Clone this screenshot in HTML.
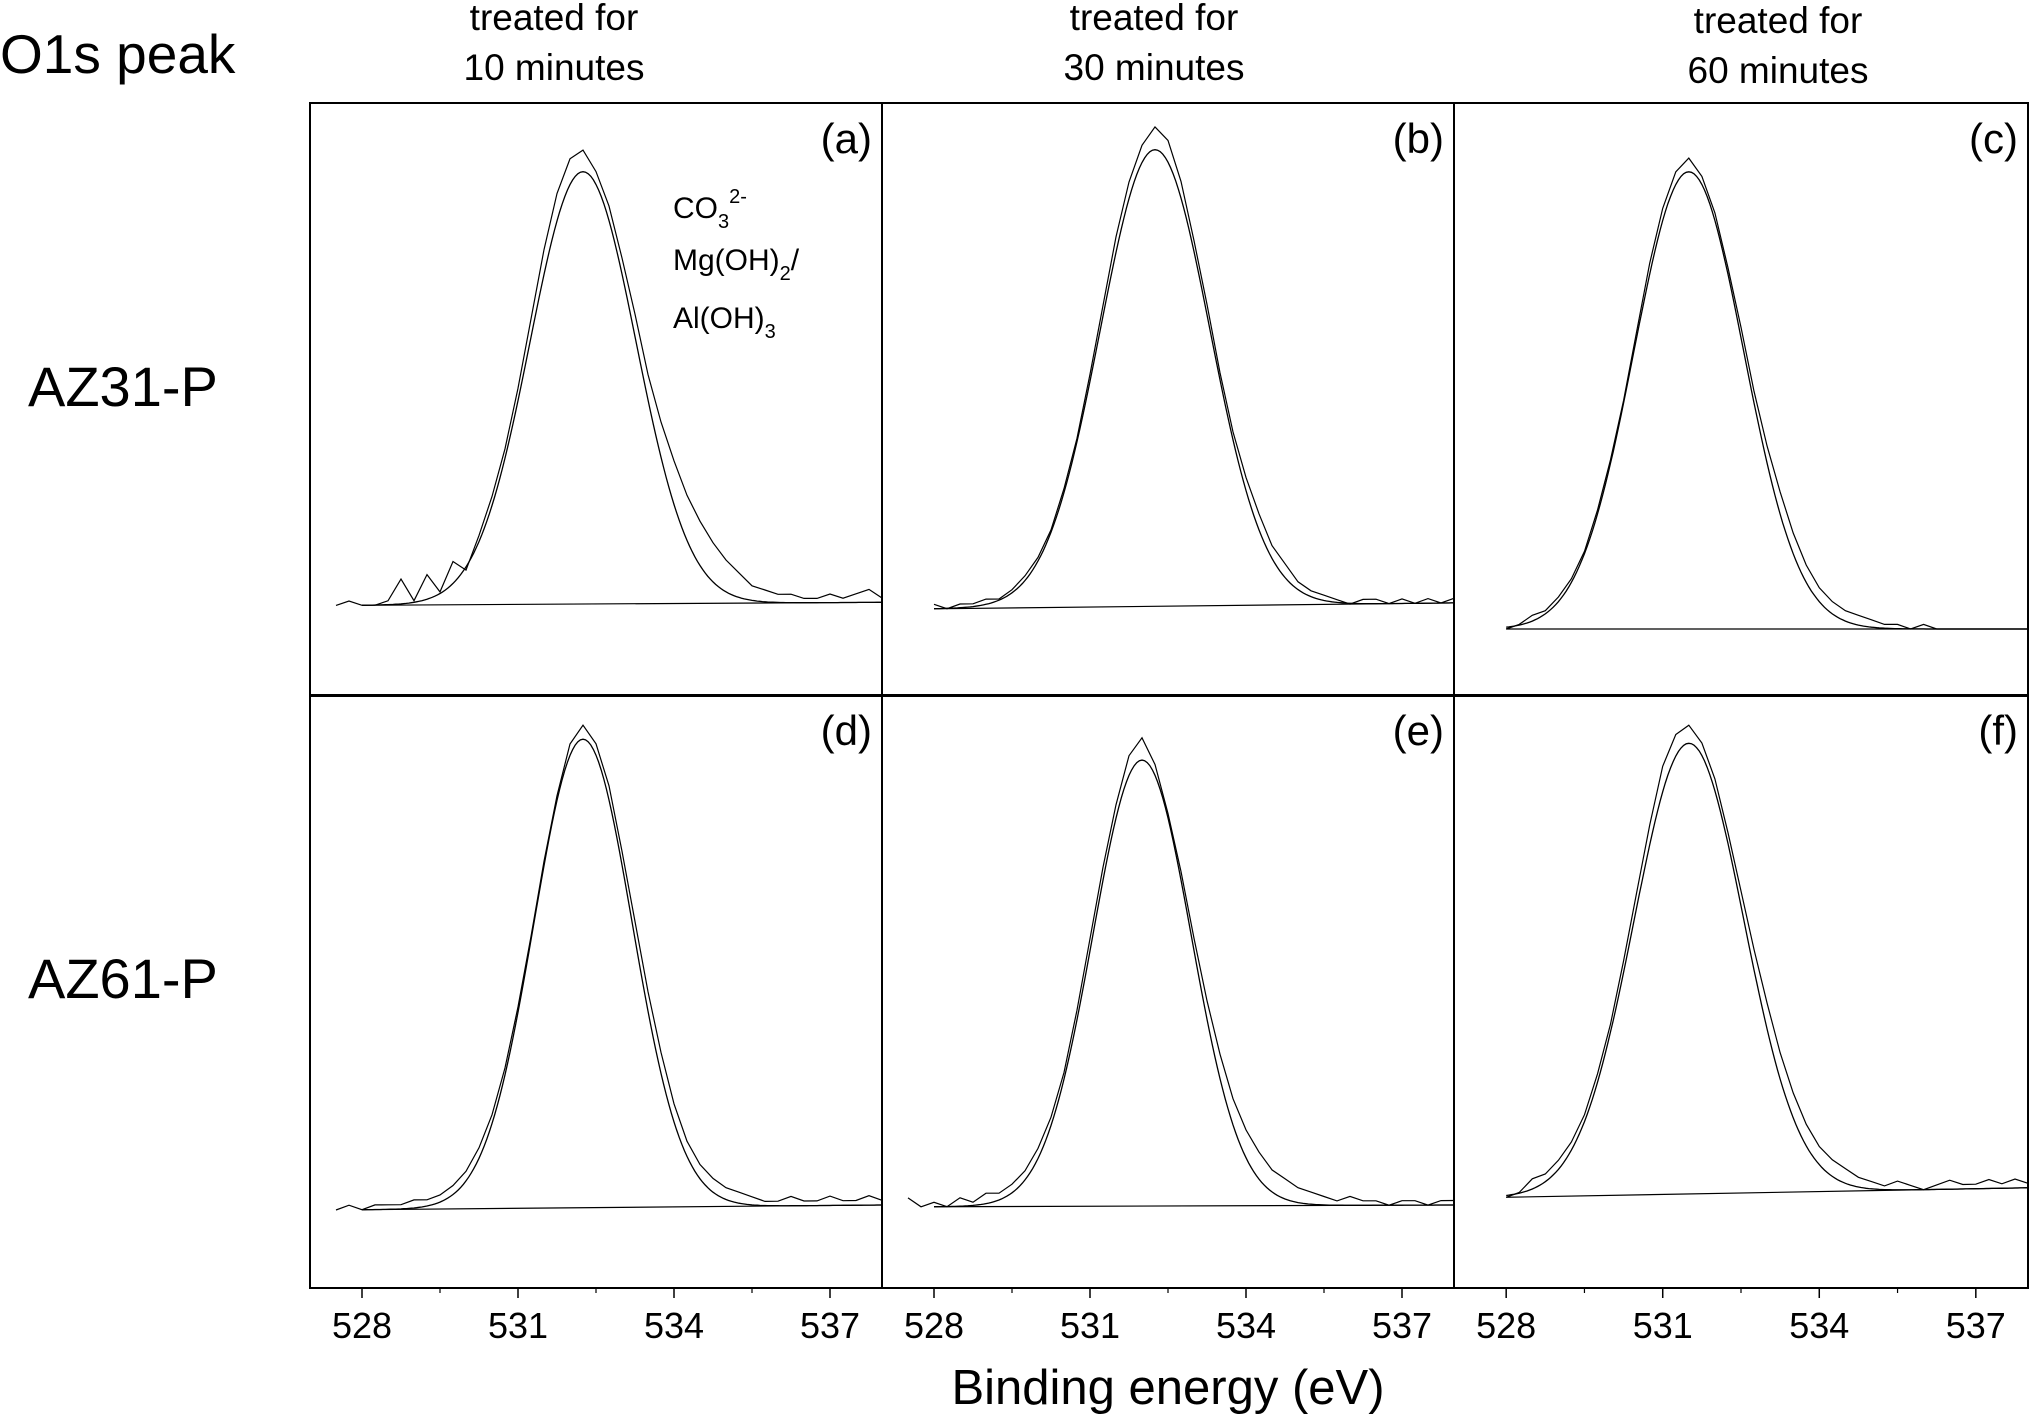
<!DOCTYPE html>
<html><head><meta charset="utf-8"><style>
html,body{margin:0;padding:0;background:#fff;}
svg{display:block;}
text{font-family:"Liberation Sans",Arial,sans-serif;fill:#000;}
</style></head><body>
<svg id="chart" width="2029" height="1414" viewBox="0 0 2029 1414" xmlns="http://www.w3.org/2000/svg">
<text x="0" y="73" font-size="55">O1s peak</text>
<g font-size="37" text-anchor="middle">
<text x="554" y="30">treated for</text>
<text x="554" y="80">10 minutes</text>
<text x="1154" y="30">treated for</text>
<text x="1154" y="80">30 minutes</text>
<text x="1778" y="33">treated for</text>
<text x="1778" y="83">60 minutes</text>
</g>
<text x="28" y="406" font-size="56">AZ31-P</text>
<text x="28" y="998" font-size="56">AZ61-P</text>
<g font-size="30">
<text x="673" y="218">CO<tspan font-size="20" dy="10">3</tspan><tspan font-size="20" dy="-25">2-</tspan></text>
<text x="673" y="270">Mg(OH)<tspan font-size="20" dy="10">2</tspan><tspan dy="-10">/</tspan></text>
<text x="673" y="328">Al(OH)<tspan font-size="20" dy="10">3</tspan></text>
</g>
<text x="1168" y="1404" font-size="49" text-anchor="middle">Binding energy (eV)</text>
<g id="panels"></g>
</svg>
<script>
// shared energy grid (eV), 0.25 eV step
const energyStart = 527;
const energyStep = 0.25;
const panelLabels = ['(a)','(b)','(c)','(d)','(e)','(f)'];
const xTicks = [528, 531, 534, 537];
const xMinorTicks = [526.5, 529.5, 532.5, 535.5];
// fitted peak parameters per panel
const fitCenter = [532.25, 532.25, 531.5, 532.25, 532.0, 531.5];
const fitFwhm = [2.4, 2.48, 2.48, 2.23, 2.23, 2.48];
const fitHeight = [72.9, 77, 77.1, 79, 75.2, 76];
// linear background (intensity in % of panel height) at 528 and 538 eV
const bgLeft = [15.3, 14.7, 11.3, 13.2, 13.7, 15.3];
const bgRight = [15.8, 15.7, 11.3, 14.0, 14.0, 16.9];
// measured spectra start energy
const dataStart = [527.5, 528, 528, 527.5, 527.5, 528];
// measured spectra (relative to fit height = 100), grid 527..538 step 0.25
const measA = [0,-1,0,1,0,0,1,6,1,7,3,10,8,16,25,36,50,66,82,95,103,105,100,92,80,67,53,42,33,25,19,14,10,7,4,3,2,2,1,1,2,1,2,3,1];
const measB = [0,0,1,0,1,0,1,1,2,2,4,7,11,17,26,37,51,66,81,93,101,105,102,93,80,66,51,38,28,20,13,9,5,3,2,1,0,1,1,0,1,0,1,0,1];
const measC = [0,0,1,1,0,1,3,4,7,11,17,26,37,50,65,80,92,100,103,99,91,79,66,52,40,30,21,14,9,6,4,3,2,1,1,0,1,0,0,0,0,0,0,0,0];
const measD = [0,0,0,1,0,1,1,1,2,2,3,5,8,13,20,30,43,58,74,88,99,103,99,90,76,61,46,33,22,14,9,6,4,3,2,1,1,2,1,1,2,1,1,2,1];
const measE = [1,0,2,0,1,0,2,1,3,3,5,8,13,20,30,44,60,76,90,101,105,99,88,75,60,46,34,24,17,12,8,6,4,3,2,1,2,1,1,0,1,1,0,1,1];
const measF = [0,0,1,1,0,1,4,5,8,12,18,27,38,52,67,82,95,102,104,100,92,80,67,54,42,31,22,15,10,7,5,3,2,1,2,1,0,1,2,1,1,2,1,2,1];
const measured = [measA, measB, measC, measD, measE, measF];

const NS = 'http://www.w3.org/2000/svg';
const colX = [310, 882, 1454];
const colW = [572, 572, 574];
const rowY = [103, 695];
const rowH = 593;
const xMin = 527, xMax = 538;
const root = document.getElementById('panels');
function mk(tag, attrs) {
  const e = document.createElementNS(NS, tag);
  for (const k in attrs) e.setAttribute(k, attrs[k]);
  return e;
}
for (let p = 0; p < 6; p++) {
  const c = p % 3, r = Math.floor(p / 3);
  const x0 = colX[c], w = colW[c], y0 = rowY[r];
  const sx = v => x0 + (v - xMin) / (xMax - xMin) * w;
  const sy = v => y0 + rowH - v / 100 * rowH;
  const g = mk('g', {});
  
  
  root.appendChild(g);
  const bg = e => bgLeft[p] + (bgRight[p] - bgLeft[p]) * (e - 528) / 10;
  const bl = mk('line', {x1: sx(528), y1: sy(bg(528)), x2: sx(538), y2: sy(bg(538)), stroke: '#000', 'stroke-width': 1.2});
  
  
  g.appendChild(bl);
  const sig = fitFwhm[p] / 2.3548;
  let d = '';
  for (let e = 528; e <= 538.001; e += 0.05) {
    const v = bg(e) + fitHeight[p] * Math.exp(-((e - fitCenter[p]) ** 2) / (2 * sig * sig));
    d += (d ? 'L' : 'M') + sx(e).toFixed(1) + ' ' + sy(v).toFixed(1);
  }
  const fp = mk('path', {d: d, fill: 'none', stroke: '#000', 'stroke-width': 1.3});
  
  
  g.appendChild(fp);
  let dm = '';
  measured[p].forEach((m, i) => {
    const e = energyStart + i * energyStep;
    if (e < dataStart[p] - 1e-6) return;
    const v = bg(Math.max(e, 527)) + m / 100 * fitHeight[p];
    dm += (dm ? 'L' : 'M') + sx(e).toFixed(1) + ' ' + sy(v).toFixed(1);
  });
  const mp = mk('path', {d: dm, fill: 'none', stroke: '#000', 'stroke-width': 1.2});
  
  
  g.appendChild(mp);
  const t = mk('text', {x: x0 + w - 10, y: y0 + 50, 'font-size': 42, 'text-anchor': 'end'});
  t.textContent = panelLabels[p];
  
  
  g.appendChild(t);
  const fr = mk('rect', {x: x0, y: y0, width: w, height: rowH, fill: 'none', stroke: '#000', 'stroke-width': 2});
  
  
  g.appendChild(fr);
  if (r === 1) {
    const yb = y0 + rowH;
    xTicks.forEach(tv => {
      const tk = mk('line', {x1: sx(tv), x2: sx(tv), y1: yb, y2: yb + 10, stroke: '#000', 'stroke-width': 1.5});
      
      
      g.appendChild(tk);
      const tl = mk('text', {x: sx(tv), y: yb + 50, 'font-size': 36, 'text-anchor': 'middle'});
      tl.textContent = tv;
      
      
      g.appendChild(tl);
    });
    xMinorTicks.forEach(tv => {
      if (tv < xMin) return;
      const tk = mk('line', {x1: sx(tv), x2: sx(tv), y1: yb, y2: yb + 5, stroke: '#000', 'stroke-width': 1.2});
      
      
      g.appendChild(tk);
    });
  }
}
</script>
</body></html>
